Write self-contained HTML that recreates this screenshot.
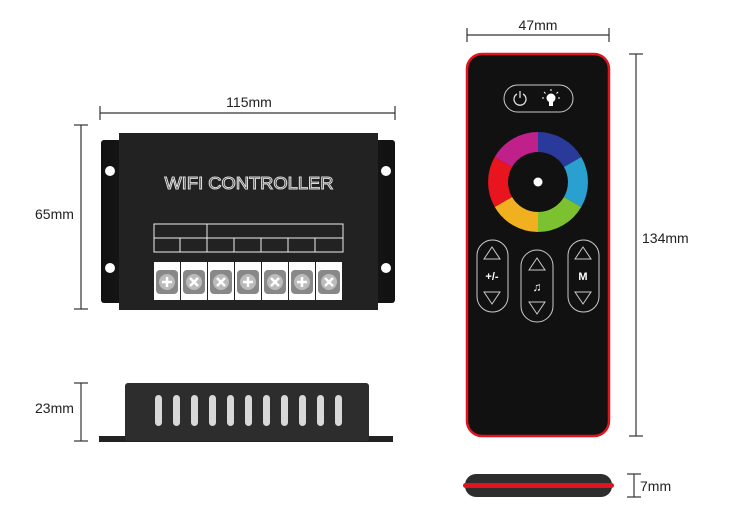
<!DOCTYPE html>
<html><head><meta charset="utf-8"><style>
html,body{margin:0;padding:0;background:#fff;width:750px;height:507px;overflow:hidden}
svg{display:block}
text{font-family:"Liberation Sans","DejaVu Sans",sans-serif}
</style></head><body>
<svg width="750" height="507" viewBox="0 0 750 507" xmlns="http://www.w3.org/2000/svg">
<defs>
<linearGradient id="fl" x1="0" x2="1"><stop offset="0" stop-color="#111"/><stop offset="0.5" stop-color="#2a2a2a"/><stop offset="1" stop-color="#111"/></linearGradient>
</defs>
<g stroke="#333" stroke-width="1.2" fill="none">
<line x1="100" y1="113" x2="395" y2="113"/><line x1="100" y1="106" x2="100" y2="120"/><line x1="395" y1="106" x2="395" y2="120"/>
<line x1="81" y1="125" x2="81" y2="309"/><line x1="74" y1="125" x2="88" y2="125"/><line x1="74" y1="309" x2="88" y2="309"/>
<line x1="81" y1="383" x2="81" y2="441"/><line x1="74" y1="383" x2="88" y2="383"/><line x1="74" y1="441" x2="88" y2="441"/>
<line x1="467" y1="35" x2="609" y2="35"/><line x1="467" y1="28" x2="467" y2="42"/><line x1="609" y1="28" x2="609" y2="42"/>
<line x1="636" y1="54" x2="636" y2="436"/><line x1="629" y1="54" x2="643" y2="54"/><line x1="629" y1="436" x2="643" y2="436"/>
<line x1="634" y1="474" x2="634" y2="497"/><line x1="627" y1="474" x2="641" y2="474"/><line x1="627" y1="497" x2="641" y2="497"/>
</g>
<g font-size="14" fill="#222">
<text x="249" y="107" text-anchor="middle">115mm</text>
<text x="35" y="219">65mm</text>
<text x="35" y="413">23mm</text>
<text x="538" y="30" text-anchor="middle">47mm</text>
<text x="642" y="243">134mm</text>
<text x="640" y="491">7mm</text>
</g>
<rect x="101" y="140" width="294" height="163" rx="3" fill="url(#fl)"/>
<rect x="119" y="133" width="259" height="177" fill="#222"/>
<circle cx="110" cy="171" r="5" fill="#fff"/><circle cx="386" cy="171" r="5" fill="#fff"/>
<circle cx="110" cy="268" r="5" fill="#fff"/><circle cx="386" cy="268" r="5" fill="#fff"/>
<text x="249" y="189" text-anchor="middle" font-size="17.5" fill="#222" stroke="#ddd" stroke-width="1" textLength="169" lengthAdjust="spacingAndGlyphs">WIFI CONTROLLER</text>
<g stroke="#eee" stroke-width="1" fill="none">
<rect x="154" y="224" width="189" height="28"/>
<line x1="154" y1="238" x2="343" y2="238"/>
<line x1="207" y1="224" x2="207" y2="252"/>
<line x1="180" y1="238" x2="180" y2="252"/><line x1="234" y1="238" x2="234" y2="252"/><line x1="261" y1="238" x2="261" y2="252"/><line x1="288" y1="238" x2="288" y2="252"/><line x1="315" y1="238" x2="315" y2="252"/>
</g>
<g>
<rect x="154" y="262" width="26" height="38" fill="#fff"/><rect x="181" y="262" width="26" height="38" fill="#fff"/><rect x="208" y="262" width="26" height="38" fill="#fff"/><rect x="235" y="262" width="26" height="38" fill="#fff"/><rect x="262" y="262" width="26" height="38" fill="#fff"/><rect x="289" y="262" width="26" height="38" fill="#fff"/><rect x="316" y="262" width="26" height="38" fill="#fff"/>
<g fill="#888"><rect x="156" y="270" width="22" height="24" rx="4"/><rect x="183" y="270" width="22" height="24" rx="4"/><rect x="210" y="270" width="22" height="24" rx="4"/><rect x="237" y="270" width="22" height="24" rx="4"/><rect x="264" y="270" width="22" height="24" rx="4"/><rect x="291" y="270" width="22" height="24" rx="4"/><rect x="318" y="270" width="22" height="24" rx="4"/></g>
<g fill="#bbb"><circle cx="167" cy="282" r="8"/><circle cx="194" cy="282" r="8"/><circle cx="221" cy="282" r="8"/><circle cx="248" cy="282" r="8"/><circle cx="275" cy="282" r="8"/><circle cx="302" cy="282" r="8"/><circle cx="329" cy="282" r="8"/></g>
<g stroke="#fff" stroke-width="2.5">
<path d="M162 282h10M167 277v10"/><path d="M190 278l8 8M198 278l-8 8"/><path d="M217 278l8 8M225 278l-8 8"/><path d="M243 282h10M248 277v10"/><path d="M271 278l8 8M279 278l-8 8"/><path d="M297 282h10M302 277v10"/><path d="M325 278l8 8M333 278l-8 8"/>
</g>
</g>
<rect x="99" y="436" width="294" height="6" fill="#222"/>
<rect x="125" y="383" width="244" height="58" rx="3" fill="#2d2d2d"/>
<g fill="#d8d8d8">
<rect x="155" y="395" width="7" height="31" rx="3.5"/><rect x="173" y="395" width="7" height="31" rx="3.5"/><rect x="191" y="395" width="7" height="31" rx="3.5"/><rect x="209" y="395" width="7" height="31" rx="3.5"/><rect x="227" y="395" width="7" height="31" rx="3.5"/><rect x="245" y="395" width="7" height="31" rx="3.5"/><rect x="263" y="395" width="7" height="31" rx="3.5"/><rect x="281" y="395" width="7" height="31" rx="3.5"/><rect x="299" y="395" width="7" height="31" rx="3.5"/><rect x="317" y="395" width="7" height="31" rx="3.5"/><rect x="335" y="395" width="7" height="31" rx="3.5"/>
</g>
<rect x="467" y="54" width="142" height="382" rx="15" fill="#111" stroke="#e0141e" stroke-width="2.5"/>
<rect x="504" y="85" width="69" height="27" rx="13.5" fill="none" stroke="#ccc" stroke-width="1"/>
<path d="M517 94a6 6 0 1 0 6 0M520 91v7" stroke="#ddd" stroke-width="1.3" fill="none"/>
<circle cx="551" cy="98" r="4.5" fill="#fff"/><rect x="549" y="102" width="4" height="4" fill="#fff"/>
<path d="M551 89v2M544 92l1.5 1.5M558 92l-1.5 1.5M542 98h2M558 98h2" stroke="#fff" stroke-width="1"/>
<g fill="none" stroke-width="20">
<path d="M538 142A40 40 0 0 1 572.6 162" stroke="#2a3a9a"/>
<path d="M572.6 162A40 40 0 0 1 572.6 202" stroke="#2aa0d0"/>
<path d="M572.6 202A40 40 0 0 1 538 222" stroke="#7cc230"/>
<path d="M538 222A40 40 0 0 1 503.4 202" stroke="#f0b020"/>
<path d="M503.4 202A40 40 0 0 1 503.4 162" stroke="#e8141e"/>
<path d="M503.4 162A40 40 0 0 1 538 142" stroke="#c0208a"/>
</g>
<circle cx="538" cy="182" r="4.5" fill="#fff"/>
<g fill="none" stroke="#ccc" stroke-width="1">
<rect x="477" y="240" width="31" height="72" rx="15.5"/>
<rect x="521" y="250" width="32" height="72" rx="16"/>
<rect x="568" y="240" width="31" height="72" rx="15.5"/>
<path d="M484 259l8-12 8 12z"/><path d="M484 292l8 12 8-12z"/>
<path d="M529 270l8-12 8 12z"/><path d="M529 302l8 12 8-12z"/>
<path d="M575 259l8-12 8 12z"/><path d="M575 292l8 12 8-12z"/>
</g>
<text x="492" y="280" text-anchor="middle" font-size="11" font-weight="bold" fill="#fff">+/-</text>
<text x="537" y="291" text-anchor="middle" font-size="12" font-weight="bold" fill="#fff">♫</text>
<text x="583" y="280" text-anchor="middle" font-size="11" font-weight="bold" fill="#fff">M</text>
<rect x="465" y="474" width="147" height="23" rx="11" fill="#2d2d2d"/>
<rect x="463" y="483" width="151" height="5" rx="2.5" fill="#e0141e"/>
</svg>
</body></html>
